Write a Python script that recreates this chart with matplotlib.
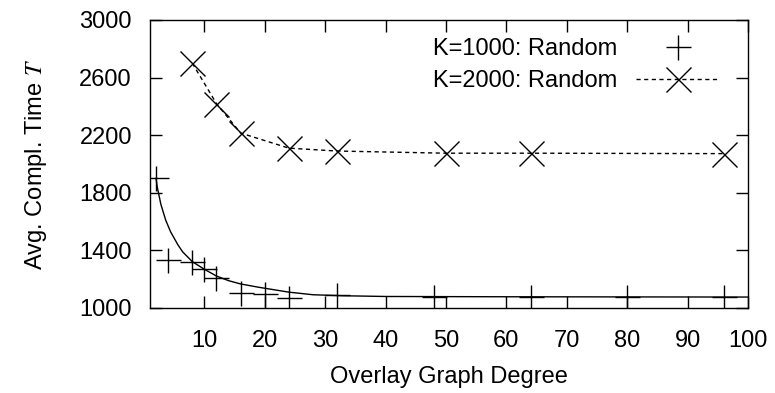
import matplotlib
matplotlib.use("Agg")
import matplotlib.pyplot as plt

# K=1000 measurements (+ markers)
k1000_x = [2, 4, 8, 10, 12, 16, 20, 24, 32, 48, 64, 80, 96]
k1000_y = [1905, 1333, 1320, 1270, 1205, 1102, 1100, 1068, 1090, 1078, 1075, 1075, 1075]

# solid curve drawn through the K=1000 points
curve_x = [2, 2.2, 2.8, 3.6, 4.4, 5.6, 6.4, 8, 10, 12, 14, 16, 19, 24, 28, 33, 40, 60, 80, 100]
curve_y = [1900, 1840, 1720, 1610, 1530, 1440, 1390, 1322, 1269, 1222, 1190, 1167, 1144,
           1110, 1092, 1085, 1080, 1078, 1077, 1076]

# K=2000 measurements (x markers, dashed)
k2000_x = [8, 12, 16, 24, 32, 50, 64, 96]
k2000_y = [2700, 2420, 2215, 2110, 2090, 2075, 2075, 2072]

x_ticks = [10, 20, 30, 40, 50, 60, 70, 80, 90, 100]
y_ticks = [1000, 1400, 1800, 2200, 2600, 3000]

plt.rcParams["font.family"] = ["Liberation Sans", "DejaVu Sans"]
plt.rcParams["mathtext.fontset"] = "stix"

fig = plt.figure(figsize=(7.75, 3.93), dpi=100)
ax = fig.add_axes([150 / 775, 1 - 308 / 393, 598 / 775, 288 / 393])

ax.plot(k1000_x, k1000_y, linestyle="none", marker="+", markersize=18,
        markeredgewidth=1.0, color="black", label="K=1000: Random")
ax.plot(curve_x, curve_y, color="black", linewidth=1.0, label="_nolegend_")
ax.plot(k2000_x, k2000_y, linestyle=(0, (3, 2.5)), linewidth=1.0, marker="x",
        markersize=18, markeredgewidth=1.0, color="black", label="K=2000: Random")

ax.set_xlim(1, 100)
ax.set_ylim(1000, 3000)
ax.set_xticks(x_ticks)
ax.set_yticks(y_ticks)
ax.tick_params(direction="in", length=8.5, width=1.0, top=True, right=True,
               labelsize=17)
ax.tick_params(axis="x", pad=16)
ax.tick_params(axis="y", pad=13)
for side in ax.spines.values():
    side.set_linewidth(1.0)

ax.set_xlabel("Overlay Graph Degree", fontsize=17, labelpad=10)
ax.set_ylabel(r"Avg. Compl. Time $T$", fontsize=17, labelpad=22)

ax.legend(loc="upper right", bbox_to_anchor=(0.975, 0.985), frameon=False,
          markerfirst=False, fontsize=17, handlelength=3.5, labelspacing=0.4,
          handletextpad=0.8, borderaxespad=0.2)

fig.savefig("out.png", dpi=100)
